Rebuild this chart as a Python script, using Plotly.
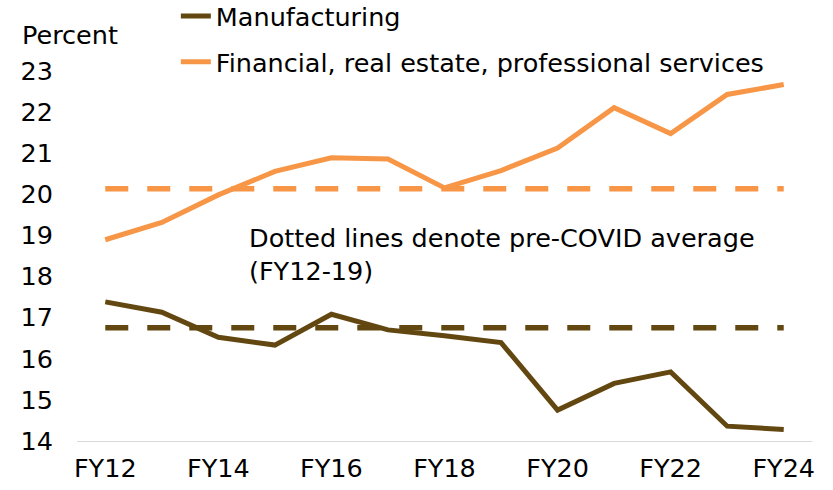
import plotly.graph_objects as go

years = ["FY12", "FY13", "FY14", "FY15", "FY16", "FY17", "FY18",
         "FY19", "FY20", "FY21", "FY22", "FY23", "FY24"]
manufacturing = [17.38, 17.13, 16.52, 16.33, 17.08, 16.70, 16.56,
                 16.39, 14.75, 15.40, 15.68, 14.36, 14.28]
financial = [18.89, 19.31, 19.98, 20.55, 20.88, 20.85, 20.15,
             20.57, 21.12, 22.10, 21.47, 22.42, 22.66]
manu_avg = 16.75
fin_avg = 20.13
tick_labels = ["FY12", "FY14", "FY16", "FY18", "FY20", "FY22", "FY24"]
y_ticks = [14, 15, 16, 17, 18, 19, 20, 21, 22, 23]

BROWN = "#634711"
ORANGE = "#F79646"
FONT = "DejaVu Sans"
FS = 25.5

fig = go.Figure()
fig.add_trace(go.Scatter(x=years, y=[manu_avg] * len(years), mode="lines",
                         line=dict(color=BROWN, width=5.5, dash="23px,19px"),
                         showlegend=False, hoverinfo="skip"))
fig.add_trace(go.Scatter(x=years, y=[fin_avg] * len(years), mode="lines",
                         line=dict(color=ORANGE, width=5.5, dash="23px,19px"),
                         showlegend=False, hoverinfo="skip"))
fig.add_trace(go.Scatter(x=years, y=manufacturing, mode="lines",
                         name="Manufacturing",
                         line=dict(color=BROWN, width=5), legend="legend"))
fig.add_trace(go.Scatter(x=years, y=financial, mode="lines",
                         name="Financial, real estate, professional services",
                         line=dict(color=ORANGE, width=5), legend="legend2"))

fig.update_layout(
    width=833, height=490,
    margin=dict(l=77, r=21, t=50, b=49, autoexpand=False),
    paper_bgcolor="white", plot_bgcolor="white",
    font=dict(family=FONT, size=FS, color="#000000"),
    legend=dict(x=0.1345, y=1.086, xanchor="left", yanchor="middle",
                bgcolor="rgba(0,0,0,0)", font=dict(size=FS)),
    legend2=dict(x=0.1345, y=0.969, xanchor="left", yanchor="middle",
                 bgcolor="rgba(0,0,0,0)", font=dict(size=FS)),
    xaxis=dict(type="category", range=[-0.5, 12.5], automargin=False,
               tickmode="array", tickvals=tick_labels, ticktext=tick_labels,
               showgrid=False, showline=True, linecolor="#D9D9D9", linewidth=1,
               ticks="", ticklabelstandoff=4, zeroline=False),
    yaxis=dict(range=[14, 23.5], tickmode="array", tickvals=y_ticks,
               automargin=False,
               showgrid=False, showline=False, zeroline=False, ticks="",
               ticklabelstandoff=23),
    annotations=[
        dict(text="Percent", xref="paper", yref="paper", x=-0.0775, y=1.038,
             xanchor="left", yanchor="middle", showarrow=False,
             font=dict(size=FS)),
        dict(text="Dotted lines denote pre-COVID average<br>(FY12-19)",
             xref="paper", yref="paper", x=0.231, y=0.476,
             xanchor="left", yanchor="middle", align="left", showarrow=False,
             font=dict(size=FS)),
    ],
)

# remove the browser's default 8px body margin so the figure fills the window
fig.write_html("out.html", config={"displayModeBar": False},
               post_script="document.body.style.margin='0';")
